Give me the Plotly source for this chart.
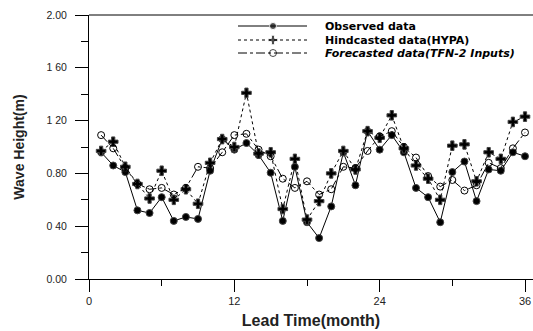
import plotly.graph_objects as go

# Monthly lead time and wave heights (m)
months = list(range(1, 37))
observed = [0.96, 0.86, 0.81, 0.52, 0.50, 0.62, 0.44, 0.47, 0.455, 0.82, 1.06, 0.98,
            1.03, 0.94, 0.805, 0.44, 0.85, 0.43, 0.31, 0.55, 0.96, 0.71, 1.12, 0.98,
            1.09, 0.96, 0.69, 0.62, 0.43, 0.81, 0.89, 0.59, 0.83, 0.82, 0.96, 0.93]
hindcast = [0.97, 1.04, 0.85, 0.72, 0.61, 0.82, 0.60, 0.68, 0.57, 0.88, 1.06, 1.00,
            1.41, 0.95, 0.96, 0.53, 0.91, 0.45, 0.59, 0.80, 0.97, 0.83, 1.12, 1.07,
            1.24, 0.99, 0.86, 0.76, 0.60, 1.01, 1.02, 0.74, 0.96, 0.91, 1.19, 1.23]
forecast = [1.09, 0.99, 0.84, 0.72, 0.68, 0.69, 0.64, 0.69, 0.85, 0.84, 0.96, 1.09,
            1.10, 0.98, 0.93, 0.76, 0.69, 0.74, 0.64, 0.68, 0.85, 0.84, 0.97, 1.08,
            1.12, 1.00, 0.92, 0.78, 0.70, 0.75, 0.67, 0.71, 0.88, 0.84, 0.99, 1.11]

series_names = ["Observed data", "Hindcasted data(HYPA)", "Forecasted data(TFN-2 Inputs)"]

x_ticks = [0, 12, 24, 36]
y_ticks = [0.0, 0.4, 0.8, 1.2, 1.6, 2.0]
y_tick_labels = ["0.00", "0 40", "0.80", "1 20", "1 60", "2.00"]

# Per-series styling: line dash, marker symbol, marker size
styles = [
    dict(dash="solid", symbol="circle", size=7),
    dict(dash="dot", symbol="cross", size=8),
    dict(dash="dashdot", symbol="circle-open", size=7),
]
values = [observed, hindcast, forecast]

fig = go.Figure()
for name, vals, st in zip(series_names, values, styles):
    fig.add_trace(go.Scatter(
        x=months, y=vals, mode="lines+markers", name=name, showlegend=False,
        line=dict(color="black", width=1, dash=st["dash"]),
        marker=dict(symbol=st["symbol"], size=st["size"], color="black", line=dict(width=1)),
    ))

# Legend drawn on a pixel-space overlay axis placed over the plot area
leg_x0, leg_xm, leg_x1, leg_text_x = 238, 273, 307, 323
leg_rows = [26, 40, 53]
for name, st, ry in zip(series_names, styles, leg_rows):
    fig.add_trace(go.Scatter(
        x=[leg_x0, leg_xm, leg_x1], y=[ry, ry, ry], xaxis="x2", yaxis="y2",
        mode="lines+markers", showlegend=False, hoverinfo="skip",
        line=dict(color="black", width=1, dash=st["dash"]),
        marker=dict(symbol=st["symbol"], size=[0, st["size"], 0], color="black", line=dict(width=1)),
    ))
    label = f"<b>{name}</b>" if st["dash"] != "dashdot" else f"<b><i>{name}</i></b>"
    fig.add_annotation(x=leg_text_x, y=ry, xref="x2", yref="y2", text=label,
                       showarrow=False, xanchor="left", yanchor="middle",
                       font=dict(family="DejaVu Sans, sans-serif", size=11, color="black"))

fig.update_layout(
    width=533, height=331,
    margin=dict(l=89, r=0, t=15, b=52),
    paper_bgcolor="white", plot_bgcolor="white",
    font=dict(family="Arial, Liberation Sans, sans-serif", color="#222"),
    showlegend=False,
    xaxis=dict(
        range=[0, 36.66], tickvals=x_ticks, ticktext=[str(v) for v in x_ticks],
        showgrid=False, zeroline=False,
        showline=True, linecolor="black", linewidth=1, mirror=False,
        ticks="outside", ticklen=12, tickcolor="black", tickwidth=1,
        minor=dict(dtick=6, ticks="outside", ticklen=6, tickcolor="black"),
        tickfont=dict(size=11, color="#222"),
        title=dict(text="<b>Lead Time(month)</b>", font=dict(size=16, color="#222"), standoff=8),
    ),
    yaxis=dict(
        range=[0, 2.0], tickvals=y_ticks, ticktext=y_tick_labels,
        showgrid=False, zeroline=False,
        showline=True, linecolor="black", linewidth=1,
        ticks="outside", ticklen=13, tickcolor="black", tickwidth=1,
        ticklabelstandoff=6,
        minor=dict(dtick=0.2, ticks="outside", ticklen=7, tickcolor="black"),
        tickfont=dict(size=10.5, color="#222"),
        title=dict(text="<b>Wave Height(m)</b>", font=dict(size=14, color="#222"), standoff=18),
    ),
    xaxis2=dict(overlaying="x", range=[89, 533], visible=False, fixedrange=True),
    yaxis2=dict(overlaying="y", range=[279, 15], visible=False, fixedrange=True),
)

# Top frame line running across the plot
fig.add_shape(type="line", xref="paper", yref="paper", x0=0, x1=1, y0=1, y1=1,
              line=dict(color="black", width=1))

fig.write_html("out.html")
